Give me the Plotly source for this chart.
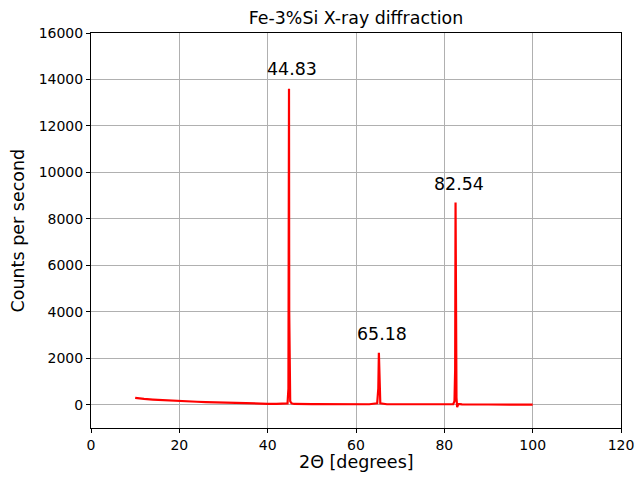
import plotly.graph_objects as go

two_theta = [10, 11, 12, 14, 16, 18, 20, 22, 24, 26, 28, 30, 32, 34, 36, 38, 40, 42, 44,
             44.5, 44.7, 44.78, 44.83, 44.88, 44.95, 45.1, 45.4, 46, 50, 55, 60, 63,
             64.8, 65.05, 65.18, 65.3, 65.5, 67, 70, 75, 80, 82, 82.3, 82.45, 82.54,
             82.62, 82.75, 82.9, 83.2, 84, 85, 90, 95, 100]
counts = [300, 270, 250, 225, 200, 180, 160, 145, 130, 115, 100, 85, 75, 65, 55, 50, 42, 38, 35,
          60, 700, 6000, 13600, 4000, 700, 150, 60, 35, 25, 22, 20, 22,
          60, 700, 2240, 500, 60, 22, 18, 15, 15, 25, 150, 1500, 8700,
          3000, 300, -100, 40, 20, 15, 12, 10, 8]

peak_pos = [44.83, 65.18, 82.54]
peak_label_y = [14430, 3060, 9480]
peak_labels = ["44.83", "65.18", "82.54"]

x_ticks = [0, 20, 40, 60, 80, 100, 120]
y_ticks = [0, 2000, 4000, 6000, 8000, 10000, 12000, 14000, 16000]

FONT = "DejaVu Sans"

fig = go.Figure()
fig.add_trace(go.Scatter(x=two_theta, y=counts, mode="lines",
                         line=dict(color="#ff0000", width=2.2), showlegend=False))

for px, py, t in zip(peak_pos, peak_label_y, peak_labels):
    fig.add_annotation(x=px, y=py, text=t, showarrow=False, xanchor="center", yanchor="middle",
                       xshift=3, font=dict(family=FONT, size=17.4, color="black"))

fig.add_annotation(xref="paper", yref="paper", x=0.5, y=-0.086, text="2Θ [degrees]",
                   showarrow=False, xanchor="center", yanchor="middle",
                   font=dict(family=FONT, size=17.5, color="black"))
fig.add_annotation(xref="paper", yref="paper", x=-0.1396, y=0.5, text="Counts per second",
                   showarrow=False, xanchor="center", yanchor="middle", textangle=-90,
                   font=dict(family=FONT, size=17.5, color="black"))

axis_common = dict(showline=True, mirror=True, linecolor="black", linewidth=1,
                   ticks="outside", ticklen=4, tickwidth=1, tickcolor="black",
                   showgrid=True, gridcolor="#b0b0b0", gridwidth=1, zeroline=False,
                   automargin=False,
                   tickfont=dict(family=FONT, size=14, color="black"))

fig.update_layout(
    width=635, height=478,
    margin=dict(l=91, r=14, t=33, b=50),
    paper_bgcolor="white", plot_bgcolor="white",
    title=dict(text="Fe-3%Si X-ray diffraction", x=0.5607, xanchor="center",
               y=1 - 18 / 478, yanchor="middle", automargin=False,
               font=dict(family=FONT, size=17.4, color="black")),
    xaxis=dict(range=[0, 120], tickvals=x_ticks, ticktext=[str(v) for v in x_ticks], **axis_common),
    yaxis=dict(range=[-1000, 16000], tickvals=y_ticks, ticktext=[str(v) for v in y_ticks], **axis_common),
)

fig.write_html("out.html")
